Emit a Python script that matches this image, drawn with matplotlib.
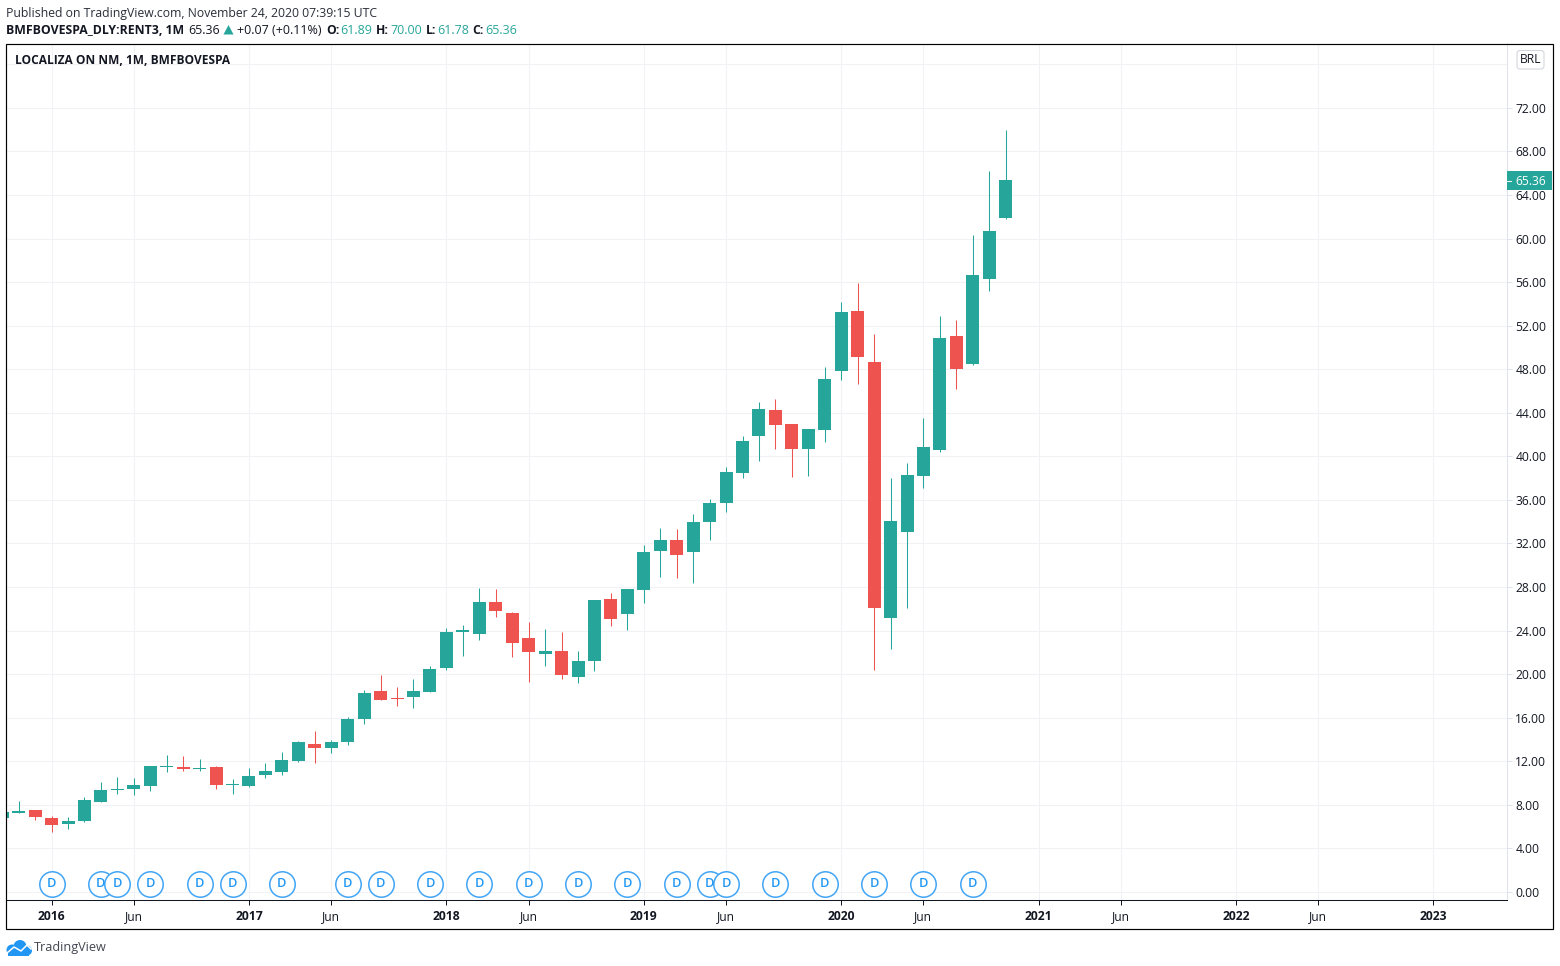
import matplotlib
matplotlib.use("Agg")
import matplotlib.pyplot as plt
from matplotlib.patches import Rectangle, Polygon, Circle, FancyBboxPatch
from matplotlib.transforms import blended_transform_factory

FONT = "Open Sans"
plt.rcParams["font.family"] = [FONT, "DejaVu Sans"]

first_month = -3  # months relative to Jan 2016
opens = [6.80, 7.25, 7.53, 6.80, 6.24, 6.52, 8.26, 9.37, 9.46, 9.73, 11.48, 11.48, 11.30, 11.48, 9.83,
         9.73, 10.74, 11.02, 12.03, 13.59, 13.22, 13.77, 15.89, 18.46, 17.82, 17.91, 18.37, 20.57, 23.88,
         23.69, 26.63, 25.62, 23.32, 21.86, 22.13, 19.74, 21.21, 26.91, 25.53, 27.73, 31.31, 32.32, 31.22,
         33.98, 35.72, 38.48, 41.87, 44.26, 42.98, 40.68, 42.43, 47.84, 53.35, 48.67, 25.16, 33.06, 38.20,
         40.59, 51.06, 48.49, 56.29, 61.89]
highs = [7.50, 8.36, 7.53, 6.98, 6.89, 8.72, 10.10, 10.56, 10.47, 11.60, 12.58, 12.49, 12.21, 11.57, 10.38,
         11.39, 11.85, 12.86, 13.87, 14.78, 13.96, 16.07, 18.55, 19.93, 18.82, 19.56, 20.75, 24.24, 24.52,
         27.92, 27.82, 25.71, 24.79, 24.15, 23.88, 22.13, 26.81, 27.46, 27.82, 31.87, 33.43, 33.33, 34.71,
         36.09, 39.03, 41.87, 45.00, 45.27, 42.98, 42.52, 48.21, 54.18, 55.92, 51.24, 38.02, 39.40, 43.53,
         52.89, 52.53, 60.33, 66.21, 70.00]
lows = [6.70, 7.25, 6.61, 5.51, 5.79, 6.43, 8.26, 9.00, 8.91, 9.27, 11.02, 11.11, 11.11, 9.46, 9.00,
        9.64, 10.47, 10.74, 11.94, 11.85, 12.76, 13.50, 15.43, 17.63, 17.08, 16.90, 18.37, 20.39, 21.67,
        23.14, 25.25, 21.58, 19.28, 20.75, 19.56, 19.19, 20.29, 24.43, 24.06, 26.54, 28.93, 28.83, 28.38,
        32.32, 34.90, 38.02, 39.58, 40.68, 38.11, 38.20, 41.32, 47.02, 46.65, 20.39, 22.31, 26.08, 37.10,
        40.41, 46.19, 48.39, 55.19, 61.78]
closes = [7.35, 7.44, 6.89, 6.15, 6.52, 8.45, 9.37, 9.46, 9.83, 11.57, 11.57, 11.30, 11.39, 9.83, 9.92,
          10.65, 11.11, 12.12, 13.77, 13.22, 13.77, 15.89, 18.27, 17.63, 17.72, 18.46, 20.48, 23.88, 24.06,
          26.63, 25.80, 22.87, 22.04, 22.13, 19.93, 21.21, 26.81, 25.07, 27.82, 31.22, 32.32, 30.95, 33.98,
          35.72, 38.57, 41.42, 44.35, 42.88, 40.68, 42.52, 47.11, 53.26, 49.13, 26.08, 34.07, 38.29, 40.86,
          50.87, 48.03, 56.66, 60.70, 65.36]
dividend_months = [0, 3, 4, 6, 9, 11, 14, 18, 20, 23, 26, 29, 32, 35, 38, 40, 41, 44, 47, 50, 53, 56]
tick_months = [0, 5, 12, 17, 24, 29, 36, 41, 48, 53, 60, 65, 72, 77, 84]
tick_labels = ["2016", "Jun", "2017", "Jun", "2018", "Jun", "2019", "Jun", "2020", "Jun", "2021", "Jun",
               "2022", "Jun", "2023"]
price_ticks = [0, 4, 8, 12, 16, 20, 24, 28, 32, 36, 40, 44, 48, 52, 56, 60, 64, 68, 72]
last_price = 65.36

GREEN, RED, INK, GRID, EDGE = "#26a69a", "#ef5350", "#131722", "#f1f2f5", "#e0e3eb"
W, H = 1560, 966
fig = plt.figure(figsize=(W / 100, H / 100), dpi=100, facecolor="white")
ax = fig.add_axes([6.5 / W, 1 - 900 / H, 1500.5 / W, 856.5 / H])
ax.set_xlim(-2.74, 88.47)
ax.set_ylim(-0.735, 77.91)

months = [first_month + i for i in range(len(opens))]
colors = [GREEN if c >= o else RED for o, c in zip(opens, closes)]
ax.vlines(months, lows, highs, colors=colors, linewidth=0.75, zorder=3)
ax.bar(months, [c - o for o, c in zip(opens, closes)], bottom=opens, width=0.79, color=colors,
       linewidth=0, zorder=4)

ax.set_xticks(tick_months)
ax.set_xticklabels(tick_labels, fontsize=8.7, color=INK)
for lab, txt in zip(ax.get_xticklabels(), tick_labels):
    if txt != "Jun":
        lab.set_fontweight("bold")
ax.set_yticks(price_ticks)
ax.set_yticklabels([f"{p:.2f}" for p in price_ticks], fontsize=8.7, color=INK)
ax.set_yticks([76], minor=True)
ax.yaxis.tick_right()
ax.tick_params(axis="y", which="major", length=3.6, width=0.72, color=EDGE, pad=2.4)
ax.tick_params(axis="y", which="minor", length=0)
ax.tick_params(axis="x", length=3.6, width=0.72, color=INK, pad=3.8)
ax.grid(True, which="both", color=GRID, linewidth=0.75, zorder=0)
ax.set_axisbelow(True)
for side in ("top", "left"):
    ax.spines[side].set_visible(False)
ax.spines["right"].set_color(EDGE)
ax.spines["right"].set_linewidth(0.75)
ax.spines["bottom"].set_color(INK)
ax.spines["bottom"].set_linewidth(0.75)

# dividend markers: x from data, fixed height above the time axis
trans = blended_transform_factory(ax.transData, ax.transAxes)
for m in dividend_months:
    ax.scatter([m], [0.0187], s=335, facecolor="white", edgecolor="#42a5f5", linewidth=1.1,
               transform=trans, zorder=6, clip_on=False)
    ax.text(m, 0.0187, "D", transform=trans, ha="center", va="center", fontsize=9.2, color="#2196f3",
            zorder=7, clip_on=False, fontweight="semibold")

# overlay in pixel coordinates for the page furniture
ov = fig.add_axes([0, 0, 1, 1], facecolor="none")
ov.set_xlim(0, W)
ov.set_ylim(H, 0)
ov.axis("off")
ov.add_patch(Rectangle((6, 43.5), 1547, 885.5, fill=False, edgecolor="black", linewidth=0.85))


def label(x, y, s, color=INK, weight="normal", size=8.7, ha="left"):
    ov.text(x, y, s, color=color, fontweight=weight, fontsize=size, ha=ha, va="center")


label(6, 13.2, "Published on TradingView.com, November 24, 2020 07:39:15 UTC", color="#2a2e39", size=8.83)
label(6, 30, "BMFBOVESPA_DLY:RENT3, 1M", weight="bold", size=8.8)
label(188, 30, f"{last_price:.2f}", size=8.9)
ov.add_patch(Polygon([(223.5, 34.5), (233.5, 34.5), (228.5, 25)], closed=True, facecolor=GREEN, edgecolor="none"))
label(237, 30, "+0.07 (+0.11%)", size=9.0)
for x1, s1, x2, s2 in [(326, "O:", 340, "61.89"), (376, "H:", 390, "70.00"),
                       (426, "L:", 437, "61.78"), (472, "C:", 485, "65.36")]:
    label(x1, 30, s1, weight="bold")
    label(x2, 30, s2, color=GREEN, size=9.0)
label(15, 61, "LOCALIZA ON NM, 1M, BMFBOVESPA", weight="bold", size=8.6)

# last price tag
ov.add_patch(Rectangle((1507, 171), 45, 19, facecolor=GREEN, edgecolor="none"))
ov.plot([1507, 1511], [180.5, 180.5], color="white", linewidth=0.75)
label(1515.5, 181.5, f"{last_price:.2f}", color="white")

# currency button
ov.add_patch(FancyBboxPatch((1517, 50.5), 27, 18.5, boxstyle="round,pad=0,rounding_size=3",
                            facecolor="white", edgecolor="#d1d4dc", linewidth=0.75))
label(1530.5, 59.8, "BRL", ha="center")

# logo
LOGO = "#2196f3"
for cx, cy, r in [(12, 950, 5.5), (20, 946.5, 6.5), (27, 950.5, 5)]:
    ov.add_patch(Circle((cx, cy), r, facecolor=LOGO, edgecolor="none"))
ov.add_patch(Rectangle((8, 950), 21, 5.5, facecolor=LOGO, edgecolor="none"))
ov.plot([7, 14, 21, 27, 31], [953, 947, 951, 945, 949], color="white", linewidth=1.1)
label(34, 948, "TradingView", color="#434651", size=9.1)

fig.savefig("out.png", dpi=100, facecolor="white")
